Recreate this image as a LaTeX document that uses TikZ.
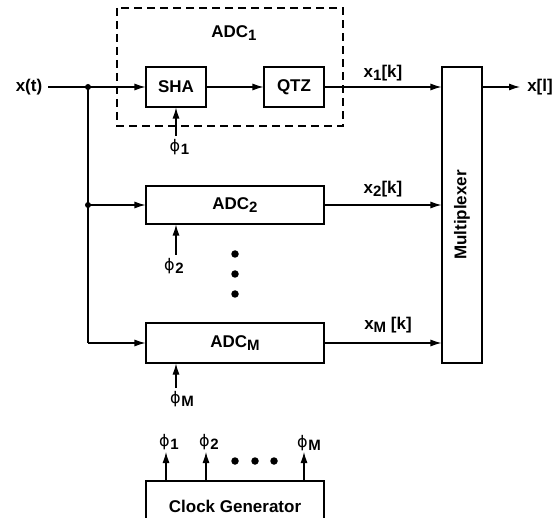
\documentclass[tikz,border=0pt]{standalone}
\usepackage{fontspec}
\setmainfont{Liberation Sans}
\newfontfamily\phifont{DejaVu Sans}
\usetikzlibrary{arrows.meta}
\newcommand{\sbx}[1]{\raisebox{-0.3ex}{\fontsize{15}{15}\selectfont\bfseries #1}}
\newcommand{\ph}[1]{{\phifont\mdseries\fontsize{16}{16}\selectfont ϕ}\kern0.5pt\sbx{#1}}
\tikzset{
  blk/.style={draw, line width=1.1pt, inner sep=0pt, font=\fontsize{17}{17}\selectfont\bfseries},
  arr/.style={line width=1.1pt, -{Latex[length=11pt,width=7pt]}},
  ln/.style={line width=1.1pt},
  lbl/.style={inner sep=0pt, font=\fontsize{17}{17}\selectfont\bfseries},
  dotn/.style={circle, fill, inner sep=0pt, minimum size=7.5pt},
  jdot/.style={circle, fill, inner sep=0pt, minimum size=6pt}
}
\begin{document}
\begin{tikzpicture}[x=1pt,y=-1pt]
\useasboundingbox (0,0) rectangle (559,518);
% dashed ADC1 frame
\draw[line width=1.1pt, dash pattern=on 8pt off 5pt] (117,8) rectangle (343,126);
\node[lbl] (adc1) at (234,33) {ADC\sbx{1}};
% blocks
\node[blk, minimum width=60pt, minimum height=40pt] (sha) at (176,87) {SHA};
\node[blk, minimum width=60pt, minimum height=40pt] (qtz) at (294,87) {QTZ};
\node[blk, minimum width=178pt, minimum height=38pt] (adc2) at (235,205) {ADC\sbx{2}};
\node[blk, minimum width=178pt, minimum height=40pt] (adcm) at (235,343) {ADC\sbx{M}};
\node[blk, minimum width=40pt, minimum height=296pt] (mux) at (462,215) {\rotatebox{90}{Multiplexer}};
\node[blk, minimum width=178pt, minimum height=50pt] (clk) at (235,506) {Clock Generator};
% input
\node[lbl] (xt) at (29,87) {x(t)};
\node[lbl] (xl) at (540,87) {x[l]};
\coordinate (j0) at (48,87);
\coordinate (j1) at (88,87);
\coordinate (j2) at (88,205);
\coordinate (j3) at (88,343);
\coordinate (xo) at (520,87);
\draw[ln] (j0) -- (j1);
\draw[arr] (j1) -- (sha.west);
\draw[arr] (sha.east) -- (qtz.west);
\draw[ln] (j1) -- (j3);
\draw[arr] (j2) -- (adc2.west);
\draw[arr] (j3) -- (adcm.west);
\node[jdot] at (j1) {};
\node[jdot] at (j2) {};
% outputs to mux
\draw[arr] (qtz.east) -- (qtz.east -| mux.west);
\draw[arr] (adc2.east) -- (adc2.east -| mux.west);
\draw[arr] (adcm.east) -- (adcm.east -| mux.west);
\draw[arr] (mux.east |- xo) -- (xo);
\node[lbl] (x1k) at (383,73) {x\sbx{1}[k]};
\node[lbl] (x2k) at (383,189) {x\sbx{2}[k]};
\node[lbl] (xmk) at (388,325) {x\sbx{M} [k]};
% clocks to ADCs
\coordinate (c1) at (176,136);
\coordinate (c2) at (176,255);
\coordinate (cm) at (176,388);
\draw[arr] (c1) -- (sha.south);
\draw[arr] (c2) -- (adc2.south -| c2);
\draw[arr] (cm) -- (adcm.south -| cm);
\node[lbl, anchor=north west] (p1) at (169.5,139) {\ph{1}};
\node[lbl, anchor=north west] (p2) at (164,258) {\ph{2}};
\node[lbl, anchor=north west] (pm) at (170,391) {\ph{M}};
% vertical dots
\node[dotn] (d1) at (235,254) {};
\node[dotn] (d2) at (235,274) {};
\node[dotn] (d3) at (235,294) {};
% clock generator outputs
\coordinate (g1) at (166,452);
\coordinate (g2) at (206,452);
\coordinate (gm) at (304,452);
\draw[arr] (clk.north -| g1) -- (g1);
\draw[arr] (clk.north -| g2) -- (g2);
\draw[arr] (clk.north -| gm) -- (gm);
\node[lbl, anchor=south west] (q1) at (159,450) {\ph{1}};
\node[lbl, anchor=south west] (q2) at (199,450) {\ph{2}};
\node[lbl, anchor=south west] (qm) at (297,451) {\ph{M}};
\node[dotn] (e1) at (235,461) {};
\node[dotn] (e2) at (255,461) {};
\node[dotn] (e3) at (274,461) {};
\end{tikzpicture}
\end{document}
